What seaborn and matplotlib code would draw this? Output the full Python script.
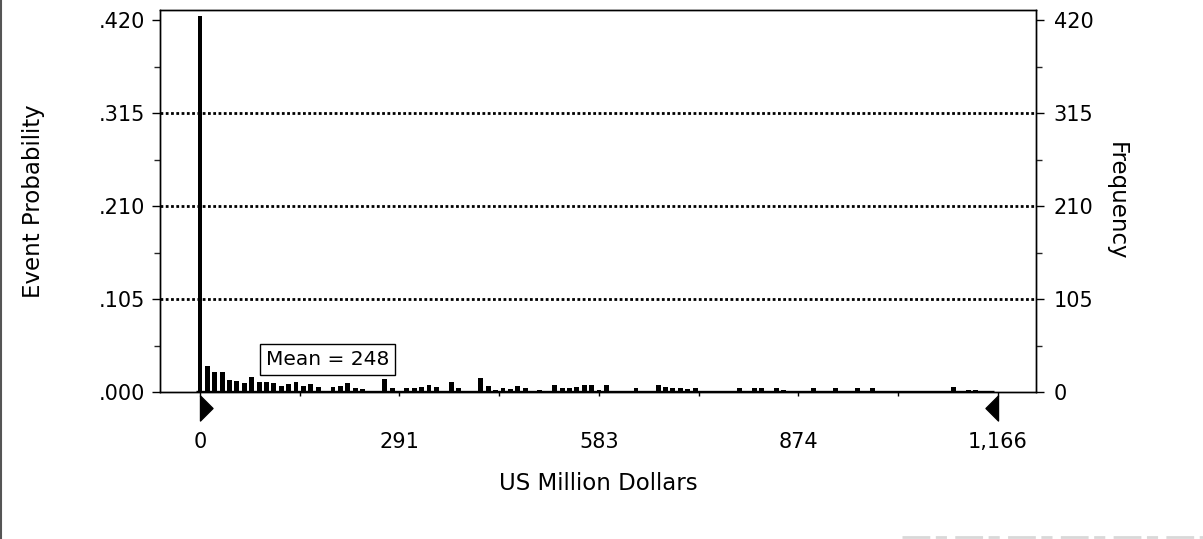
import numpy as np
import pandas as pd
import matplotlib
matplotlib.use("Agg")
import matplotlib.pyplot as plt
import matplotlib.transforms as mtransforms
from matplotlib.path import Path
from matplotlib.lines import Line2D
from matplotlib.ticker import FixedLocator, FixedFormatter
import seaborn as sns

# Simulation output: frequency of each value bin (US million dollars)
trials = 1000
bin_width = 10.8
frequency = [
    424, 29, 23, 23, 14, 13, 10, 17, 11, 11,
    10, 7, 9, 11, 7, 9, 6, 1, 6, 7,
    10, 5, 3, 1, 1, 15, 5, 1, 4, 5,
    6, 8, 6, 1, 11, 5, 1, 1, 16, 7,
    2, 4, 3, 7, 5, 1, 2, 1, 8, 5,
    5, 6, 8, 8, 2, 8, 1, 1, 1, 4,
    1, 1, 8, 6, 5, 5, 3, 5, 1, 1,
    1, 1, 1, 5, 1, 5, 5, 1, 5, 2,
    1, 1, 1, 5, 1, 1, 5, 1, 1, 5,
    1, 5, 1, 1, 1, 1, 1, 1, 1, 1,
    1, 1, 6, 1, 2, 2, 1, 1,
]
mean_value = 248
certainty_range = [0, 1166]

x_tick_values = [0, 291.5, 583, 874.5, 1166]
x_tick_labels = ["0", "291", "583", "874", "1,166"]
prob_ticks = [0.000, 0.105, 0.210, 0.315, 0.420]
prob_labels = [".000", ".105", ".210", ".315", ".420"]
freq_labels = ["0", "105", "210", "315", "420"]
grid_levels = [0.105, 0.210, 0.315]

centers = np.arange(len(frequency)) * bin_width
edges = [float(c - bin_width / 2) for c in centers] + [float(centers[-1] + bin_width / 2)]
df = pd.DataFrame({"value": centers,
                   "probability": np.array(frequency) / trials})

sns.set_style("ticks")
plt.rcParams["font.family"] = ["DejaVu Sans"]
plt.rcParams["text.color"] = "black"
plt.rcParams["axes.labelcolor"] = "black"
TICK_FS = 15
LABEL_FS = 16.5
NOTE_FS = 14.5

fig = plt.figure(figsize=(12.03, 5.39), dpi=100)
ax = fig.add_axes([0.133, 0.2727, 0.728, 0.7087])

x_lo, x_hi = -58.4, 1221.5
y_top = 0.4313

# dotted reference lines behind the bars
for lvl in grid_levels:
    ax.axhline(lvl, color="black", lw=2.0, ls=(0, (1, 0.9)), zorder=0)

sns.histplot(data=df, x="value", weights="probability", bins=edges,
             stat="count", shrink=0.66, color="black", alpha=1,
             edgecolor="none", ax=ax)
ax.hlines(0, edges[0], edges[-1], color="black", lw=2.4, zorder=3)

ax.set_xlim(x_lo, x_hi)
ax.set_ylim(0, y_top)

for s in ax.spines.values():
    s.set_visible(True)
    s.set_color("black")
    s.set_linewidth(1.0)

ax.xaxis.set_major_locator(FixedLocator(x_tick_values))
ax.xaxis.set_major_formatter(FixedFormatter(x_tick_labels))
x_minor = [(a + b) / 2 for a, b in zip(x_tick_values[:-1], x_tick_values[1:])]
ax.xaxis.set_minor_locator(FixedLocator(x_minor))
ax.tick_params(axis="x", which="both", direction="out", length=3,
               width=1, pad=26, labelsize=TICK_FS, colors="black")

ax.yaxis.set_major_locator(FixedLocator(prob_ticks))
ax.yaxis.set_major_formatter(FixedFormatter(prob_labels))
y_minor = [(a + b) / 2 for a, b in zip(prob_ticks[:-1], prob_ticks[1:])]
ax.yaxis.set_minor_locator(FixedLocator(y_minor))
ax.tick_params(axis="y", which="major", direction="out", length=6,
               width=1, pad=5, labelsize=TICK_FS, colors="black")
ax.tick_params(axis="y", which="minor", direction="out", length=4, width=1)

ax.set_xlabel("US Million Dollars", fontsize=LABEL_FS, labelpad=14,
              color="black")
ax.set_ylabel("Event Probability", fontsize=LABEL_FS, color="black")
ax.yaxis.set_label_coords(-0.131, 0.5)

# frequency scale on the right
ax2 = ax.twinx()
ax2.set_ylim(0, y_top * trials)
ax2.yaxis.set_major_locator(FixedLocator([t * trials for t in prob_ticks]))
ax2.yaxis.set_major_formatter(FixedFormatter(freq_labels))
ax2.yaxis.set_minor_locator(FixedLocator([t * trials for t in y_minor]))
ax2.tick_params(axis="y", which="major", direction="out", length=6,
                width=1, pad=7, labelsize=TICK_FS, colors="black")
ax2.tick_params(axis="y", which="minor", direction="out", length=4, width=1)
ax2.set_ylabel("Frequency", fontsize=LABEL_FS, rotation=-90, color="black")
ax2.yaxis.set_label_coords(1.105, 0.5)
for s in ax2.spines.values():
    s.set_color("black")
    s.set_linewidth(1.0)

# certainty grabbers below the axis
right_tri = Path([(0, -1), (0, 1), (1, 0), (0, -1)],
                 [Path.MOVETO, Path.LINETO, Path.LINETO, Path.CLOSEPOLY])
left_tri = Path([(0, -1), (0, 1), (-1, 0), (0, -1)],
                [Path.MOVETO, Path.LINETO, Path.LINETO, Path.CLOSEPOLY])
trans = mtransforms.blended_transform_factory(ax.transData, ax.transAxes)
ax.plot([certainty_range[0]], [-0.043], marker=right_tri, ms=18,
        color="black", transform=trans, clip_on=False, ls="none")
ax.plot([certainty_range[1]], [-0.043], marker=left_tri, ms=18,
        color="black", transform=trans, clip_on=False, ls="none")

ax.text(0.191, 0.084, f"Mean = {mean_value}", transform=ax.transAxes,
        ha="center", va="center", fontsize=NOTE_FS, zorder=5, color="black",
        bbox=dict(boxstyle="square,pad=0.3", fc="white", ec="black", lw=1))

# page edge
fig.add_artist(Line2D([0.0012, 0.0012], [0, 1], transform=fig.transFigure,
                      color="#555555", lw=1.5))
fig.add_artist(Line2D([0.75, 1.0], [0.003, 0.003], transform=fig.transFigure,
                      color="#d8d8d8", lw=2, ls=(0, (10, 2, 4, 3))))

fig.savefig("out.png", dpi=100, facecolor="white")
